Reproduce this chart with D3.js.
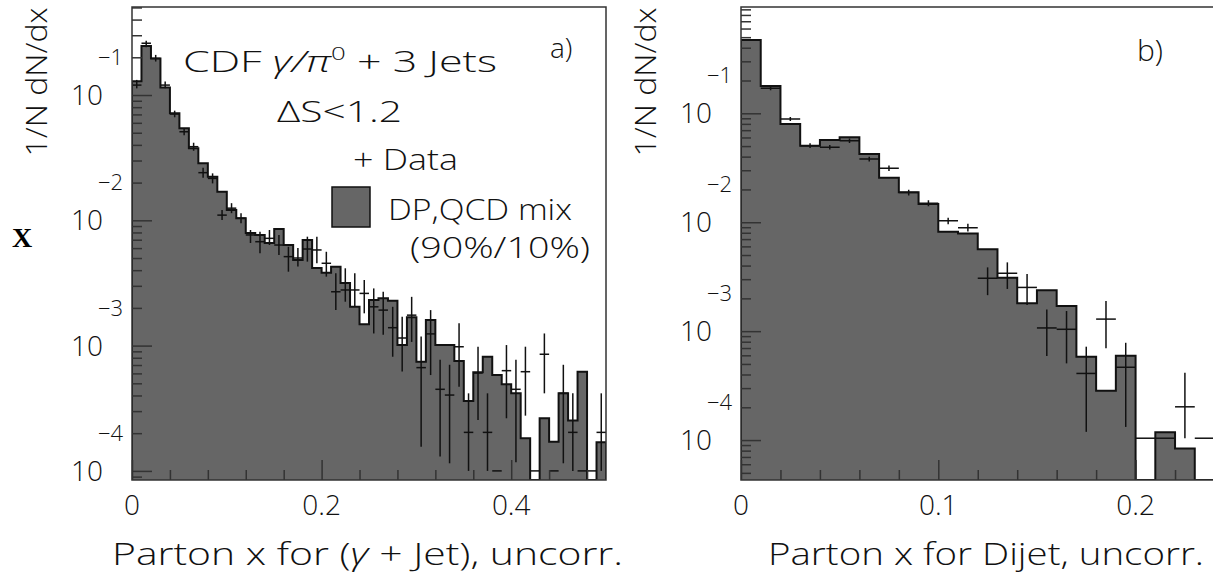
<!DOCTYPE html>
<html>
<head>
<meta charset="utf-8">
<script src="https://cdn.jsdelivr.net/npm/d3@7"></script>
<style>
body { margin: 0; background: #fff; }
text { font-family: "Open Sans", "DejaVu Sans", sans-serif; font-weight: 300; fill: #111; }
</style>
</head>
<body>
<script>
// panel a) photon/pi0 + 3 jets, bins of 0.01
const histA = [0.129, 0.246, 0.196, 0.115, 0.0714, 0.0542, 0.0376, 0.0285, 0.0223, 0.0169,
  0.0121, 0.0104, 0.00793, 0.00764, 0.00659, 0.00853, 0.00635, 0.00482, 0.00697, 0.00416,
  0.00382, 0.00426, 0.00316, 0.00204, 0.00148, 0.00231, 0.00239, 0.00228, 0.00101, 0.00168,
  0.000744, 0.0016, 0.00101, 0.00101, 0.000754, 0.000361, 0.000612, 0.000815, 0.000582, 0.000491,
  0.000416, 0.000182, 0, 0.000263, 0.000171, 0.000416, 0.000252, 0.000619, 0, 0.000169];
const dataA = [0.120, 0.259, 0.196, 0.120, 0.0705, 0.0509, 0.0387, 0.024, 0.0216, 0.011,
  0.0125, 0.0104, 0.00764, 0.00675, 0.00718, 0.00635, 0.00513, 0.0050, 0.0059, 0.0058,
  0.00454, 0.00269, 0.00278, 0.00278, 0.00261, 0.00204, 0.00192, 0.00139, 0.00115, 0.00175,
  0.000667, 0.00124, 0.000448, 0.000403, 0.000979, 0.000203, 0.000604, 0.000203, 0.0001, 0.000631,
  0.000448, 0.000619, 0.0001, 0.000853, 0.0001, 0.000416, 0.000203, 0.0001, 0.0001, 0.000203];
const dataAHi = [0.132, 0.271, 0.209, 0.128, 0.0750, 0.0543, 0.0416, 0.0263, 0.0237, 0.0121,
  0.0137, 0.0114, 0.00837, 0.00811, 0.00837, 0.00764, 0.00615, 0.00601, 0.0074, 0.0074,
  0.00561, 0.00378, 0.00414, 0.00378, 0.00334, 0.00286, 0.00269, 0.00204, 0.0017, 0.00245,
  0.00118, 0.00192, 0.000771, 0.000703, 0.00151, 0.000416, 0.00098, 0.000416, 0.0001, 0.00101,
  0.000771, 0.00098, 0.0001, 0.00125, 0.0001, 0.000703, 0.000416, 0.0001, 0.0001, 0.000416];
const dataALo = [0.113, 0.240, 0.185, 0.113, 0.0664, 0.0477, 0.0359, 0.0219, 0.0197, 0.01005,
  0.0114, 0.00946, 0.00659, 0.00545, 0.00635, 0.00528, 0.00389, 0.00427, 0.00468, 0.00454,
  0.00355, 0.00192, 0.00224, 0.00204, 0.00181, 0.00125, 0.00122, 0.000815, 0.00062, 0.00107,
  0.000156, 0.000582, 0.00013, 0.000115, 0.00047, 0.0001, 0.000255, 0.0001, 0.0001, 0.000263,
  0.000117, 0.000276, 0.0001, 0.000416, 0.0001, 0.000115, 0.0001, 0.0001, 0.0001, 0.0001];

// panel b) dijet, bins of 0.01
const histB = [0.471, 0.178, 0.0797, 0.0504, 0.0569, 0.0602, 0.0422, 0.0256, 0.0188, 0.0147,
  0.00818, 0.0079, 0.00564, 0.00309, 0.0018, 0.00238, 0.0017, 0.000582, 0.000284, 0.000594,
  0, 0.000118, 0.0000839, 0];
const dataB = [0.47, 0.170, 0.0887, 0.0504, 0.0488, 0.056, 0.038, 0.0313, 0.0187, 0.0149,
  0.0103, 0.00891, 0.00306, 0.0034, 0.00252, 0.00107, 0.00104, 0.000409, 0.00129, 0.000466,
  0.000104, 0.000104, 0.000202, 0.000104];
const dataBHi = [0.48, 0.177, 0.0925, 0.053, 0.0511, 0.0588, 0.04, 0.0331, 0.0199, 0.0159,
  0.011, 0.0097, 0.00385, 0.00428, 0.00334, 0.00158, 0.00153, 0.00072, 0.00189, 0.000782,
  0.000104, 0.000104, 0.000415, 0.000104];
const dataBLo = [0.46, 0.163, 0.085, 0.048, 0.0466, 0.0533, 0.0361, 0.0296, 0.0176, 0.014,
  0.0096, 0.0082, 0.00214, 0.00244, 0.00174, 0.00059, 0.000506, 0.000119, 0.000695, 0.000132,
  0.000104, 0.000104, 0.000104, 0.000104];

const xLabelsA = ["0", "0.2", "0.4"], xLabelValsA = [0, 0.2, 0.4];
const xLabelsB = ["0", "0.1", "0.2"], xLabelValsB = [0, 0.1, 0.2];
const decades = [-1, -2, -3, -4];

var width = 1213, height = 573;
var plotTop = 7, plotBottom = 480;

var svg = d3.select("body").append("svg")
    .attr("width", width)
    .attr("height", height);

function drawPanel(p) {
  var x = d3.scaleLinear().domain(p.xDomain).range([p.left, p.right]);
  var y = d3.scaleLog().domain(p.yDomain).range([plotBottom, plotTop]);
  var bw = 0.01;

  svg.append("clipPath").attr("id", "clip" + p.name)
    .append("rect")
      .attr("x", p.left).attr("y", plotTop)
      .attr("width", p.right - p.left).attr("height", plotBottom - plotTop);

  var g = svg.append("g").attr("clip-path", "url(#clip" + p.name + ")");

  // histogram steps
  var pts = [[x(0), plotBottom]];
  p.hist.forEach(function(v, i) {
    var yy = v > 0 ? y(v) : plotBottom;
    pts.push([x(i * bw), yy], [x((i + 1) * bw), yy]);
  });
  pts.push([x(p.hist.length * bw), plotBottom]);

  g.append("path")
    .attr("d", d3.line()(pts) + "Z")
    .attr("fill", "#666666")
    .attr("stroke", "none");

  // data crosses
  var cross = g.append("g").attr("stroke", "#111").attr("stroke-width", 1.5);
  p.data.forEach(function(v, i) {
    cross.append("line")
      .attr("x1", x(i * bw)).attr("x2", x((i + 1) * bw))
      .attr("y1", y(v)).attr("y2", y(v));
    if (p.hi[i] > p.lo[i]) {
      cross.append("line")
        .attr("x1", x((i + 0.5) * bw)).attr("x2", x((i + 0.5) * bw))
        .attr("y1", y(p.hi[i])).attr("y2", y(p.lo[i]));
    }
  });

  g.append("path")
    .attr("d", d3.line()(pts))
    .attr("fill", "none")
    .attr("stroke", "#111")
    .attr("stroke-width", 2);

  // inside ticks
  var minor = [], major = [];
  for (var d = -5; d <= 0; d++) {
    for (var k = 1; k <= 9; k++) {
      var v = k * Math.pow(10, d);
      if (v < p.yDomain[0] || v > p.yDomain[1]) continue;
      (k == 1 ? major : minor).push(v);
    }
  }
  var axG = svg.append("g").attr("class", "ax");
  axG.append("g").attr("transform", "translate(" + p.left + ",0)")
    .call(d3.axisLeft(y).tickValues(minor).tickSize(-10).tickFormat(""));
  axG.append("g").attr("transform", "translate(" + p.left + ",0)")
    .call(d3.axisLeft(y).tickValues(major).tickSize(-20).tickFormat(""));
  var xt = d3.range(0, p.xDomain[1] + 1e-9, p.xStep);
  axG.append("g").attr("transform", "translate(0," + plotBottom + ")")
    .call(d3.axisBottom(x).tickValues(xt.filter(function(t) { return !p.xLabelVals.some(function(l) { return Math.abs(l - t) < 1e-9; }); }))
      .tickSize(-10).tickFormat(""));
  axG.append("g").attr("transform", "translate(0," + plotBottom + ")")
    .call(d3.axisBottom(x).tickValues(p.xLabelVals).tickSize(-20).tickFormat(""));
  axG.selectAll(".domain").remove();
  axG.selectAll("line").attr("stroke", "#333").attr("stroke-width", 1.5);

  // frame
  svg.append("rect")
    .attr("x", p.left).attr("y", plotTop)
    .attr("width", p.right - p.left).attr("height", plotBottom - plotTop)
    .attr("fill", "none").attr("stroke", "#333").attr("stroke-width", 1.5);

  // y tick labels: 10 with the exponent above right
  decades.forEach(function(dd) {
    var yy = y(Math.pow(10, dd));
    svg.append("text").attr("x", p.left - 29).attr("y", yy + 10)
      .attr("text-anchor", "end").style("font-size", "28px").text("10");
    svg.append("text").attr("x", p.left - 9).attr("y", yy - 30)
      .attr("text-anchor", "end").style("font-size", "22px").text("\u2212" + (-dd));
  });

  // x tick labels
  p.xLabels.forEach(function(l, i) {
    svg.append("text").attr("x", x(p.xLabelVals[i])).attr("y", 515)
      .attr("text-anchor", "middle").style("font-size", "28px").text(l);
  });

  // axis titles
  svg.append("text")
    .attr("transform", "translate(" + (p.left - 85) + ",82) rotate(-90)")
    .attr("text-anchor", "middle")
    .attr("textLength", 149).attr("lengthAdjust", "spacingAndGlyphs")
    .style("font-size", "30px")
    .text("1/N dN/dx");

  var xt2 = svg.append("text")
    .attr("x", p.titleX).attr("y", 565)
    .attr("textLength", p.titleLen).attr("lengthAdjust", "spacingAndGlyphs")
    .style("font-size", "32px");
  p.title(xt2);
}

drawPanel({
  name: "a", left: 132, right: 606, xDomain: [0, 0.5], yDomain: [8.46e-5, 0.504],
  xStep: 0.04, xLabels: xLabelsA, xLabelVals: xLabelValsA,
  hist: histA, data: dataA, hi: dataAHi, lo: dataALo,
  titleX: 112, titleLen: 511,
  title: function(t) {
    t.append("tspan").text("Parton x for (");
    t.append("tspan").style("font-style", "italic").text("\u03b3");
    t.append("tspan").text(" + Jet), uncorr.");
  }
});

drawPanel({
  name: "b", left: 741, right: 1214.5, xDomain: [0, 0.24], yDomain: [4.30e-5, 0.946],
  xStep: 0.02, xLabels: xLabelsB, xLabelVals: xLabelValsB,
  hist: histB, data: dataB, hi: dataBHi, lo: dataBLo,
  titleX: 768, titleLen: 436,
  title: function(t) { t.text("Parton x for Dijet, uncorr."); }
});

// legend / annotations in panel a)
var t1 = svg.append("text").attr("x", 183).attr("y", 72)
  .attr("textLength", 314).attr("lengthAdjust", "spacingAndGlyphs")
  .style("font-size", "30px");
t1.append("tspan").text("CDF ");
t1.append("tspan").style("font-style", "italic").text("\u03b3/\u03c0");
t1.append("tspan").attr("dy", -12).style("font-size", "18px").text("0");
t1.append("tspan").attr("dy", 12).text(" + 3 Jets");

svg.append("text").attr("x", 277).attr("y", 122)
  .attr("textLength", 125).attr("lengthAdjust", "spacingAndGlyphs")
  .style("font-size", "30px").text("\u0394S<1.2");
svg.append("text").attr("x", 353).attr("y", 170)
  .attr("textLength", 105).attr("lengthAdjust", "spacingAndGlyphs")
  .style("font-size", "30px").text("+ Data");
svg.append("rect").attr("x", 332).attr("y", 187).attr("width", 38).attr("height", 40)
  .attr("fill", "#666666").attr("stroke", "#111").attr("stroke-width", 1.5);
svg.append("text").attr("x", 388).attr("y", 220)
  .attr("textLength", 184).attr("lengthAdjust", "spacingAndGlyphs")
  .style("font-size", "30px").text("DP,QCD mix");
svg.append("text").attr("x", 410).attr("y", 258)
  .attr("textLength", 180).attr("lengthAdjust", "spacingAndGlyphs")
  .style("font-size", "30px").text("(90%/10%)");
svg.append("text").attr("x", 550).attr("y", 58).style("font-size", "28px").text("a)");
svg.append("text").attr("x", 1137).attr("y", 61).style("font-size", "30px").text("b)");

svg.append("text").attr("x", 12).attr("y", 247)
  .style("font-family", "'Liberation Serif', 'Times New Roman', serif")
  .style("font-weight", "bold").style("font-size", "28px").style("fill", "#000")
  .text("X");
</script>
</body>
</html>
